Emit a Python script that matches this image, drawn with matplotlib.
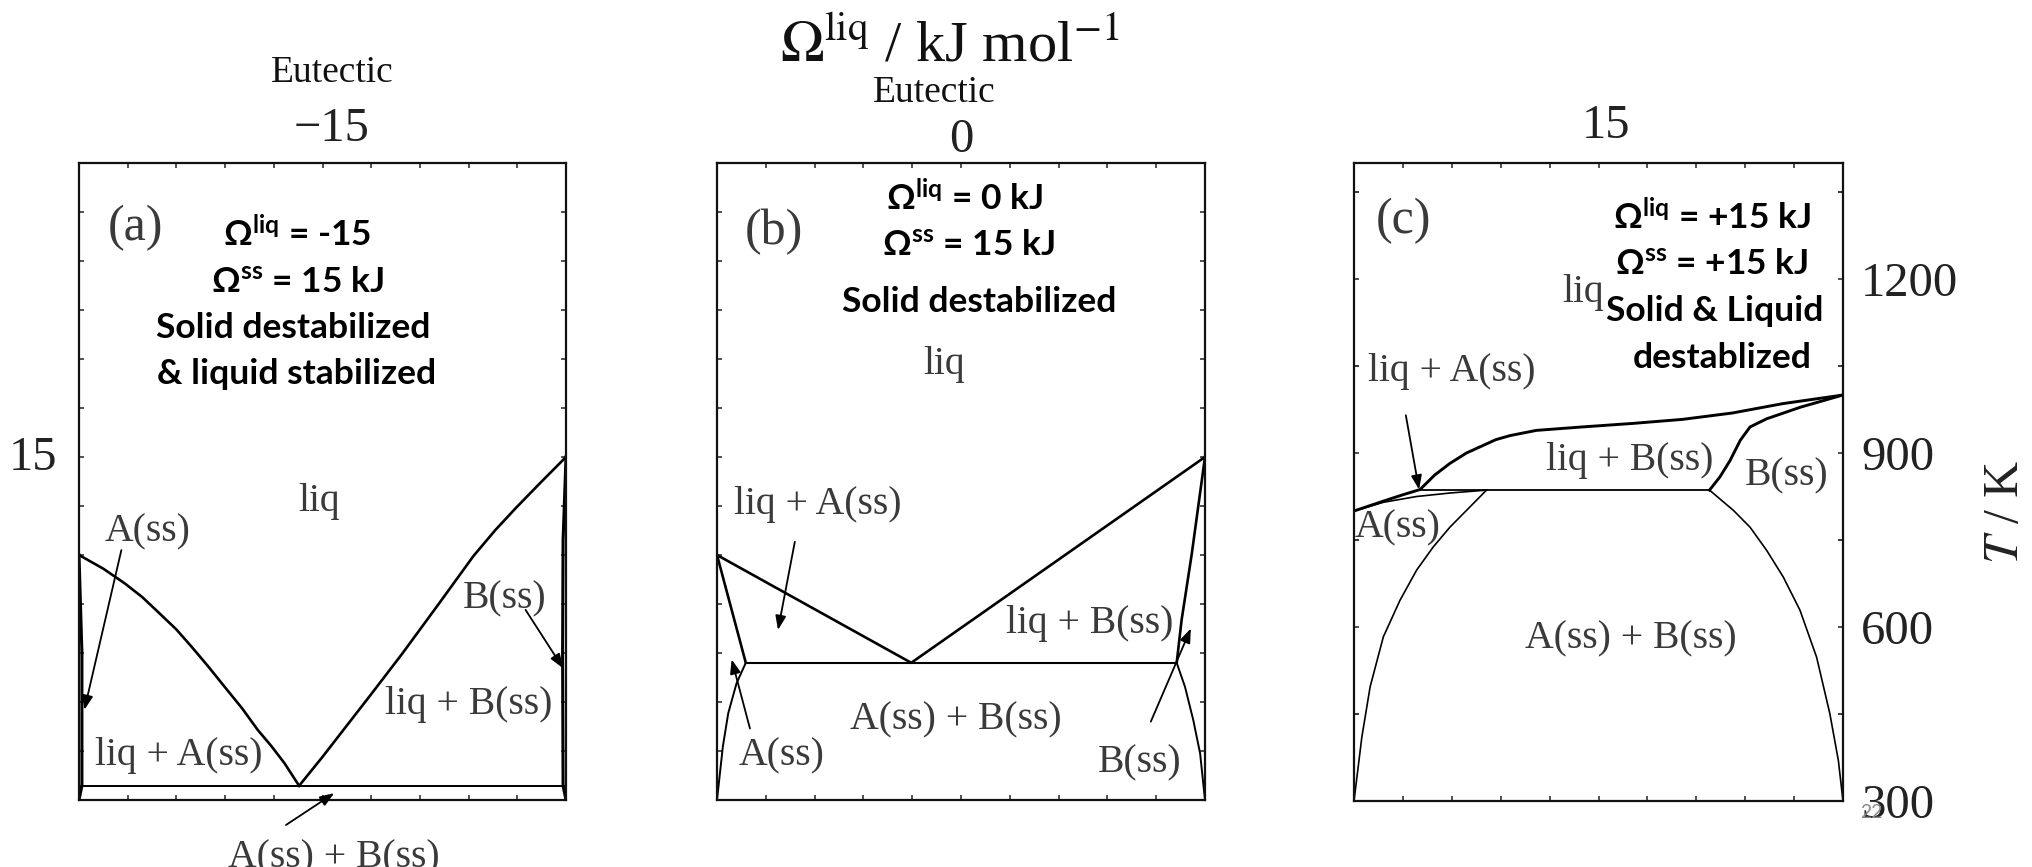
import matplotlib
matplotlib.use("Agg")
import matplotlib.pyplot as plt
from matplotlib.ticker import MultipleLocator

plt.rcParams["mathtext.fontset"] = "custom"
plt.rcParams["mathtext.rm"] = "Lato:bold"
plt.rcParams["mathtext.it"] = "Lato:bold"
plt.rcParams["mathtext.bf"] = "Lato:bold"

SERIF = "Liberation Serif"
BOLD = ["Lato", "DejaVu Sans"]
LABEL_GREY = "#3a3a3a"

# ---- panel (a): Omega_liq = -15 kJ ----
a_liq_left_x = [0.0, 0.05, 0.094, 0.13, 0.162, 0.20, 0.231, 0.265, 0.299, 0.335,
                0.367, 0.395, 0.422, 0.452]
a_liq_left_T = [800, 772, 742, 714, 684, 648, 613, 573, 531, 487,
                443, 410, 375, 329]
a_liq_right_x = [0.452, 0.5, 0.5375, 0.6, 0.664, 0.74, 0.810, 0.855, 0.899, 0.95, 1.0]
a_liq_right_T = [329, 388, 436, 516, 599, 702, 798, 851, 898, 950, 1000]
a_eut_x = [0.0, 1.0]
a_eut_T = [329, 329]
a_Ass_x = [0.0, 0.006, 0.006, 0.0]
a_Ass_T = [800, 600, 329, 300]
a_Bss_x = [1.0, 0.994, 0.993, 0.994, 1.0]
a_Bss_T = [1000, 830, 600, 329, 300]

# ---- panel (b): Omega_liq = 0 kJ ----
b_liq_x = [0.0, 0.398, 1.0]
b_liq_T = [800, 580, 1000]
b_eut_x = [0.059, 0.942]
b_eut_T = [580, 580]
b_Asol_x = [0.0, 0.059]
b_Asol_T = [800, 580]
b_Asolv_x = [0.059, 0.040, 0.023, 0.012, 0.0]
b_Asolv_T = [580, 538, 477, 409, 300]
b_Bsol_x = [1.0, 0.973, 0.952, 0.942]
b_Bsol_T = [1000, 803, 667, 580]
b_Bsolv_x = [0.942, 0.959, 0.976, 0.990, 1.0]
b_Bsolv_T = [580, 531, 463, 395, 300]

# ---- panel (c): Omega_liq = +15 kJ ----
c_liq_x = [0.0, 0.06, 0.10, 0.135, 0.165, 0.196, 0.23, 0.264, 0.29, 0.319, 0.373,
           0.468, 0.570, 0.672, 0.774, 0.876, 1.0]
c_liq_T = [800, 817, 828, 837, 862, 882, 900, 913, 923, 930, 939,
           945, 951, 958, 969, 985, 1000]
c_Asol_x = [0.0, 0.060, 0.128, 0.196, 0.271]
c_Asol_T = [800, 815, 825, 831, 836]
c_inv_x = [0.135, 0.727]
c_inv_T = [836, 836]
c_Bsol_x = [0.727, 0.7485, 0.769, 0.790, 0.810, 0.844, 0.913, 1.0]
c_Bsol_T = [836, 859, 887, 922, 945, 959, 979, 1000]
c_Asolv_x = [0.271, 0.230, 0.196, 0.162, 0.128, 0.094, 0.060, 0.033, 0.016, 0.0]
c_Asolv_T = [836, 801, 772, 738, 698, 646, 583, 497, 410, 300]
c_Bsolv_x = [0.727, 0.776, 0.810, 0.844, 0.878, 0.912, 0.946, 0.973, 0.9905, 1.0]
c_Bsolv_T = [836, 801, 772, 732, 686, 629, 548, 451, 370, 300]

c_yticks = [300, 600, 900, 1200]
c_yticklabels = ["300", "600", "900", "1200"]

W, H = 2032, 867
fig = plt.figure(figsize=(W / 100, H / 100), dpi=100)


def axes_px(left, right, top, bottom):
    return fig.add_axes([left / W, 1 - bottom / H, (right - left) / W, (bottom - top) / H])


def ftext(px, py, s, **kw):
    return fig.text(px / W, 1 - py / H, s, **kw)


def style(ax, ylim, ystep):
    ax.set_xlim(0, 1)
    ax.set_ylim(*ylim)
    ax.xaxis.set_major_locator(MultipleLocator(0.1))
    ax.yaxis.set_major_locator(MultipleLocator(ystep))
    ax.tick_params(direction="in", length=3.6, width=1.1, top=True, right=True,
                   labelbottom=False, labelleft=False, colors="#222222")
    for sp in ax.spines.values():
        sp.set_linewidth(1.6)
        sp.set_color("#111111")


def region(ax, x, y, s, size=28.5):
    ax.text(x, y, s, ha="center", va="baseline", family=SERIF, fontsize=size,
            color=LABEL_GREY)


def arrow(ax, tail, tip):
    ax.annotate("", xy=tip, xytext=tail, annotation_clip=False,
                arrowprops=dict(arrowstyle="-|>,head_length=0.85,head_width=0.32",
                                color="black", lw=1.3, shrinkA=0, shrinkB=0))


ax_a = axes_px(79, 566, 163, 800)
ax_b = axes_px(717, 1205, 163, 800)
ax_c = axes_px(1354, 1843, 163, 801)

style(ax_a, (300, 1600), 100)
style(ax_b, (300, 1600), 100)
style(ax_c, (300, 1400), 150)

# panel (a)
ax_a.plot(a_liq_left_x, a_liq_left_T, color="black", lw=1.9)
ax_a.plot(a_liq_right_x, a_liq_right_T, color="black", lw=1.9)
ax_a.plot(a_eut_x, a_eut_T, color="black", lw=1.4)
ax_a.plot(a_Ass_x, a_Ass_T, color="black", lw=2.2)
ax_a.plot(a_Bss_x, a_Bss_T, color="black", lw=2.2)
region(ax_a, 0.117, 1442, "(a)", 36)
region(ax_a, 0.492, 890, "liq")
region(ax_a, 0.141, 828, "A(ss)")
region(ax_a, 0.873, 690, "B(ss)")
region(ax_a, 0.801, 475, "liq + B(ss)")
region(ax_a, 0.205, 372, "liq + A(ss)")
region(ax_a, 0.5225, 163, "A(ss) + B(ss)")
arrow(ax_a, (0.087, 810), (0.011, 484))
arrow(ax_a, (0.917, 688), (0.994, 569))
arrow(ax_a, (0.425, 249), (0.524, 314))

# panel (b)
ax_b.plot(b_liq_x, b_liq_T, color="black", lw=1.9)
ax_b.plot(b_eut_x, b_eut_T, color="black", lw=1.5)
ax_b.plot(b_Asol_x, b_Asol_T, color="black", lw=1.9)
ax_b.plot(b_Asolv_x, b_Asolv_T, color="black", lw=1.4)
ax_b.plot(b_Bsol_x, b_Bsol_T, color="black", lw=1.9)
ax_b.plot(b_Bsolv_x, b_Bsolv_T, color="black", lw=1.4)
region(ax_b, 0.117, 1434, "(b)", 36)
region(ax_b, 0.466, 1170, "liq")
region(ax_b, 0.2055, 884, "liq + A(ss)")
region(ax_b, 0.763, 640, "liq + B(ss)")
region(ax_b, 0.489, 445, "A(ss) + B(ss)")
region(ax_b, 0.133, 370, "A(ss)")
region(ax_b, 0.867, 357, "B(ss)")
arrow(ax_b, (0.1595, 827), (0.125, 647))
arrow(ax_b, (0.0675, 446), (0.030, 587))
arrow(ax_b, (0.889, 460), (0.971, 650))

# panel (c)
ax_c.plot(c_liq_x, c_liq_T, color="black", lw=2.1)
ax_c.plot(c_Asol_x, c_Asol_T, color="black", lw=1.2)
ax_c.plot(c_inv_x, c_inv_T, color="black", lw=1.3)
ax_c.plot(c_Bsol_x, c_Bsol_T, color="black", lw=2.1)
ax_c.plot(c_Asolv_x, c_Asolv_T, color="black", lw=1.2)
ax_c.plot(c_Bsolv_x, c_Bsolv_T, color="black", lw=1.2)
region(ax_c, 0.102, 1279, "(c)", 36)
region(ax_c, 0.468, 1160, "liq")
region(ax_c, 0.200, 1025, "liq + A(ss)")
region(ax_c, 0.564, 870, "liq + B(ss)")
region(ax_c, 0.885, 844, "B(ss)")
region(ax_c, 0.090, 755, "A(ss)")
region(ax_c, 0.566, 563, "A(ss) + B(ss)")
arrow(ax_c, (0.106, 965), (0.133, 837))

ax_c.set_yticks(c_yticks)
ax_c.yaxis.set_minor_locator(MultipleLocator(150))
ax_c.tick_params(which="minor", direction="in", length=3.6, width=1.1, left=True, right=True)
ax_c.tick_params(axis="y", labelright=True, labelleft=False, pad=13)
ax_c.set_yticklabels(c_yticklabels, family=SERIF, fontsize=35, color="#222222")

# axis titles and column / row headings
ftext(2006, 512, "$T$ / K", ha="center", va="center", rotation=90, family=SERIF,
      fontsize=36, math_fontfamily="stix", color="#222222")
ftext(950, 61, r"$\Omega^{\rm liq}$ / kJ mol$^{-1}$", ha="center", va="baseline",
      family=SERIF, fontsize=42, math_fontfamily="stix", color="#111111")
ftext(332, 82, "Eutectic", ha="center", va="baseline", family=SERIF, fontsize=27, color="#111111")
ftext(934, 102, "Eutectic", ha="center", va="baseline", family=SERIF, fontsize=27, color="#111111")
ftext(332, 141, "\u221215", ha="center", va="baseline", family=SERIF, fontsize=35, color="#222222")
ftext(961, 152, "0", ha="center", va="baseline", family=SERIF, fontsize=35, color="#222222")
ftext(1606, 138, "15", ha="center", va="baseline", family=SERIF, fontsize=35, color="#222222")
ftext(33, 470, "15", ha="center", va="baseline", family=SERIF, fontsize=35, color="#222222")

# parameter notes inside each panel
notes = [
    (297, 246, "\u03a9$^{\\mathbf{liq}}$ = -15"),
    (297, 292, "\u03a9$^{\\mathbf{ss}}$ = 15 kJ"),
    (293, 338, "Solid destabilized"),
    (297, 384, "& liquid stabilized"),
    (964, 210, "\u03a9$^{\\mathbf{liq}}$ = 0 kJ"),
    (968, 255, "\u03a9$^{\\mathbf{ss}}$ = 15 kJ"),
    (979, 312, "Solid destabilized"),
    (1712, 229, "\u03a9$^{\\mathbf{liq}}$ = +15 kJ"),
    (1712, 274, "\u03a9$^{\\mathbf{ss}}$ = +15 kJ"),
    (1715, 321, "Solid & Liquid"),
    (1722, 368, "destablized"),
]
for px, py, s in notes:
    ftext(px, py, s, ha="center", va="baseline", family=BOLD, fontweight="bold",
          fontsize=25.5, color="black", math_fontfamily="custom")

ftext(1871, 818, "22", ha="center", va="baseline", family=BOLD, fontsize=14, color="#8a8a8a")

fig.savefig("out.png", dpi=100, facecolor="white")
